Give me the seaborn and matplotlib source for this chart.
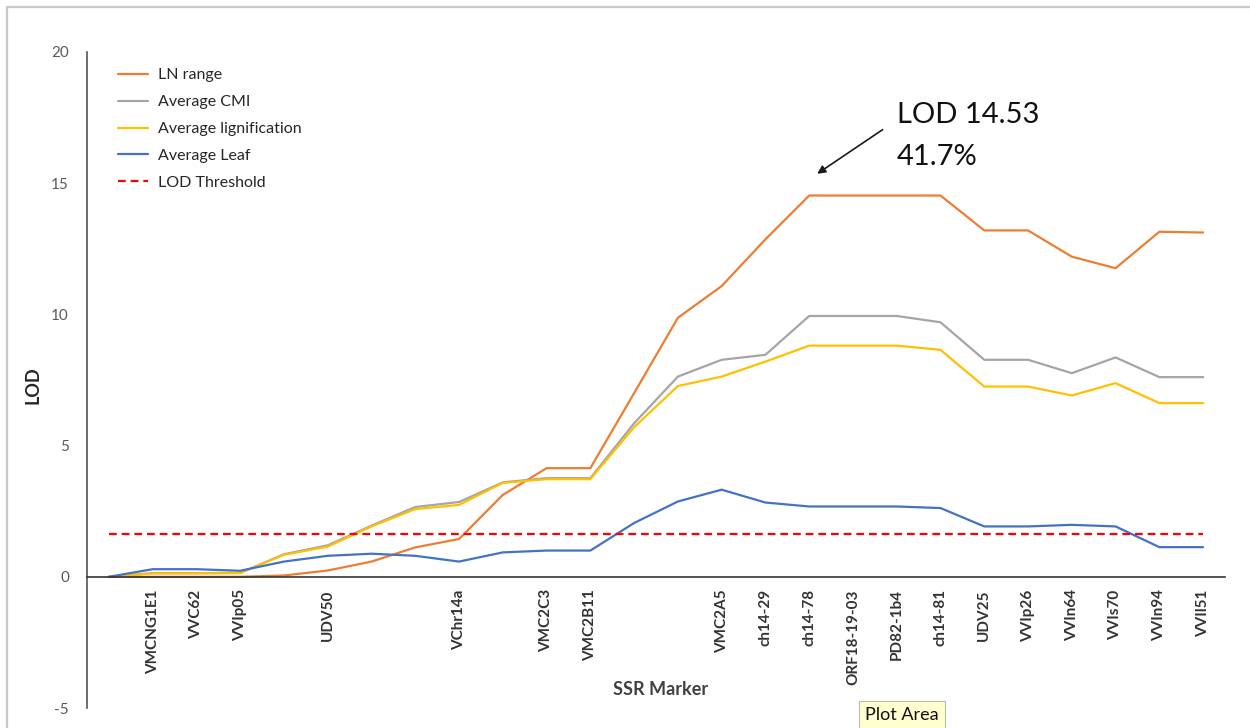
import numpy as np
import pandas as pd
import matplotlib
matplotlib.use("Agg")
import matplotlib.pyplot as plt
import seaborn as sns
from matplotlib.lines import Line2D

# ---------------- data ----------------
markers = ["", "VMCNG1E1", "VVC62", "VVIp05", "", "UDV50", "", "", "VChr14a", "",
           "VMC2C3", "VMC2B11", "", "", "VMC2A5", "ch14-29", "ch14-78", "ORF18-19-03",
           "PD82-1b4", "ch14-81", "UDV25", "VVIp26", "VVIn64", "VVIs70", "VVIn94", "VVIl51"]

ln_range = [0, 0, 0, 0, 0.05, 0.24, 0.58, 1.12, 1.44, 3.12, 4.14, 4.14, 7.0, 9.87,
            11.08, 12.86, 14.53, 14.53, 14.53, 14.53, 13.2, 13.2, 12.2, 11.76, 13.15, 13.12]
avg_cmi = [0, 0.14, 0.14, 0.15, 0.86, 1.2, 1.95, 2.66, 2.85, 3.6, 3.76, 3.76, 5.85, 7.63,
           8.27, 8.46, 9.94, 9.94, 9.94, 9.7, 8.27, 8.27, 7.76, 8.36, 7.61, 7.61]
avg_lignification = [0, 0.13, 0.13, 0.14, 0.84, 1.15, 1.92, 2.58, 2.74, 3.58, 3.72, 3.72, 5.7, 7.27,
                     7.63, 8.2, 8.81, 8.81, 8.81, 8.65, 7.25, 7.25, 6.91, 7.38, 6.62, 6.62]
avg_leaf = [0, 0.29, 0.29, 0.23, 0.58, 0.8, 0.88, 0.8, 0.58, 0.93, 1.0, 1.0, 2.05, 2.87,
            3.32, 2.83, 2.68, 2.68, 2.68, 2.62, 1.92, 1.92, 1.98, 1.92, 1.13, 1.13]
lod_threshold = [1.64] * len(markers)

series_names = ["LN range", "Average CMI", "Average lignification", "Average Leaf", "LOD Threshold"]
series_values = [ln_range, avg_cmi, avg_lignification, avg_leaf, lod_threshold]
series_colors = ["#ED7D31", "#A5A5A5", "#FFC000", "#4472C4", "#FF0000"]

yticks = [-5, 0, 5, 10, 15, 20]

# ---------------- plot ----------------
sns.set_theme(style="white")
plt.rcParams["font.family"] = ["Lato", "DejaVu Sans"]

fig = plt.figure(figsize=(12.5, 7.28), dpi=100)
ax = fig.add_axes([87 / 1250, 1 - 708 / 728, (1225 - 87) / 1250, (708 - 52) / 728])

idx = np.arange(len(markers))
for name, vals, col in zip(series_names, series_values, series_colors):
    df = pd.DataFrame({"pos": idx, "LOD": vals})
    ls = "--" if name == "LOD Threshold" else "-"
    sns.lineplot(data=df, x="pos", y="LOD", color=col, linewidth=1.6,
                 label=name, ax=ax, linestyle=ls)
ax.lines[-1].set_dashes((3.5, 2.2))

ax.set_xlim(-0.5, len(markers) - 0.5)
ax.set_ylim(-5, 20)
ax.set_yticks(yticks)
ax.set_yticklabels([str(t) for t in yticks], fontsize=11, color="#595959")
ax.set_xticks(idx)
ax.set_xticklabels(markers)
ax.tick_params(axis="x", length=0, pad=9, labelrotation=90, labelsize=11, labelcolor="#333333")
ax.tick_params(axis="y", length=0, pad=13)
ax.set_xlabel("")
ax.set_ylabel("")

for s in ["top", "right"]:
    ax.spines[s].set_visible(False)
ax.spines["bottom"].set_position(("data", 0))
ax.spines["bottom"].set_color("#333333")
ax.spines["bottom"].set_linewidth(1.2)
ax.spines["left"].set_color("#555555")
ax.spines["left"].set_linewidth(1.2)

ax.text(12.6, -4.3, "SSR Marker", ha="center", va="center", fontsize=13,
        fontweight="bold", color="#404040")
fig.text(33 / 1250, 1 - 385 / 728, "LOD", rotation=90, ha="center", va="center",
         fontsize=13, fontweight="bold", color="#262626")

leg = ax.legend(loc="upper left", bbox_to_anchor=(118 / 1250, 1 - 68 / 728),
                bbox_transform=fig.transFigure, frameon=False, fontsize=11.5,
                handlelength=1.9, handletextpad=0.6, labelspacing=0.8, borderpad=0,
                borderaxespad=0)
for t in leg.get_texts():
    t.set_color("#262626")

# annotation
ax.annotate("", xy=(16.13, 15.3), xytext=(17.73, 17.1),
            arrowprops=dict(arrowstyle="-|>", color="#1a1a1a", lw=1.2, mutation_scale=12))
ax.text(18.0, 18.1, "LOD 14.53\n41.7%", ha="left", va="top", fontsize=21,
        color="#111111", linespacing=1.75)

# tooltip
fig.text(902 / 1250, 1 - 715 / 728, "Plot Area", ha="center", va="center", fontsize=13,
         color="#111111",
         bbox=dict(boxstyle="square,pad=0.35", facecolor="#FFFFD0", edgecolor="#BBBBAA", lw=0.8))

# chart border
fig.add_artist(Line2D([7 / 1250, 7 / 1250], [0, 1 - 7 / 728], transform=fig.transFigure,
                      color="#C8C8C8", lw=1.6))
fig.add_artist(Line2D([7 / 1250, 1], [1 - 7 / 728, 1 - 7 / 728], transform=fig.transFigure,
                      color="#C8C8C8", lw=1.6))

fig.canvas.draw()
for tick in ax.xaxis.get_major_ticks():
    lbl = tick.label1
    lbl.set_rotation(90)
    lbl.set_verticalalignment("top")
    lbl.set_horizontalalignment("center")
    lbl.set_fontweight("bold")

fig.savefig("out.png", dpi=100, facecolor="white")
